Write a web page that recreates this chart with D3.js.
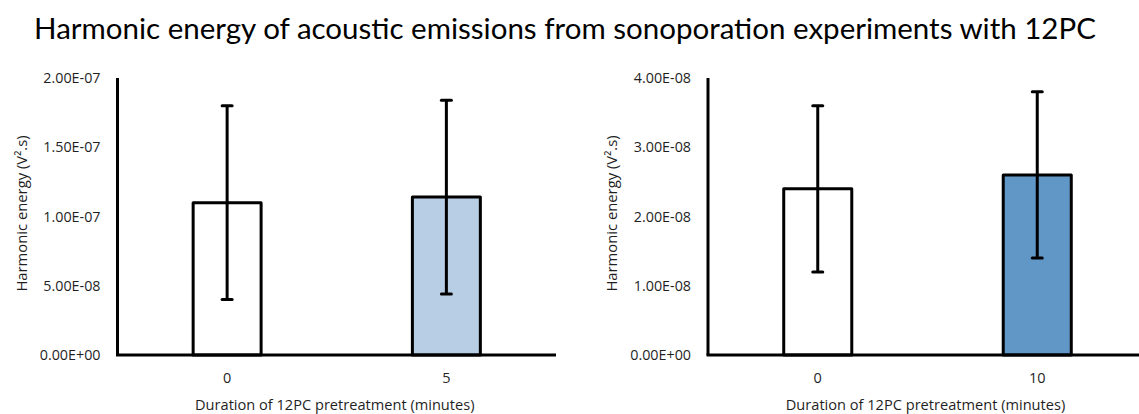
<!DOCTYPE html>
<html>
<head>
<meta charset="utf-8">
<script src="https://cdn.jsdelivr.net/npm/d3@7"></script>
<style>
  html, body { margin: 0; padding: 0; background: #fff; }
  svg { display: block; }
</style>
</head>
<body>
<svg id="chart" width="1139" height="414"></svg>
<script>
// Harmonic energy (V².s) with ±SD error bars, 12PC pretreatment duration groups
const titleText = "Harmonic energy of acoustic emissions from sonoporation experiments with 12PC";
const xAxisTitle = "Duration of 12PC pretreatment (minutes)";
const yAxisTitle = "Harmonic energy (V².s)";

// Panel A: 0 vs 5 minutes
const catsA = ["0", "5"];
const meansA = [1.10e-7, 1.14e-7];
const errsA = [7.0e-8, 7.0e-8];
const ticksA = [0, 5e-8, 1e-7, 1.5e-7, 2e-7];
const maxA = 2e-7;
const fillsA = ["#ffffff", "#b8cee5"];

// Panel B: 0 vs 10 minutes
const catsB = ["0", "10"];
const meansB = [2.40e-8, 2.60e-8];
const errsB = [1.2e-8, 1.2e-8];
const ticksB = [0, 1e-8, 2e-8, 3e-8, 4e-8];
const maxB = 4e-8;
const fillsB = ["#ffffff", "#6197c7"];

const svg = d3.select("#chart");
const labelFont = "Open Sans, sans-serif";
const textColor = "#1f1f1f";

svg.append("text")
  .attr("x", 565).attr("y", 39)
  .attr("text-anchor", "middle")
  .attr("font-family", "Lato, sans-serif")
  .attr("font-size", 29.5)
  .attr("fill", "#000")
  .text(titleText);

// Excel-style exponent format: 1.50E-07
function sci(v) {
  if (v === 0) return "0.00E+00";
  const e = Math.floor(Math.log10(Math.abs(v)));
  const m = v / Math.pow(10, e);
  const sign = e < 0 ? "-" : "+";
  return m.toFixed(2) + "E" + sign + String(Math.abs(e)).padStart(2, "0");
}

function panel(opts) {
  const { left, right, top, bottom, cats, means, errs, ticks, max, fills, yTitleX } = opts;
  const g = svg.append("g");
  const x = d3.scaleBand().domain(cats).range([left, right]).paddingInner(0.69).paddingOuter(0.345);
  const y = d3.scaleLinear().domain([0, max]).range([bottom, top]);

  // y axis tick labels
  const yAxis = d3.axisLeft(y).tickValues(ticks).tickFormat(sci).tickSize(0).tickPadding(17);
  const ya = g.append("g").attr("transform", `translate(${left},0)`).call(yAxis);
  ya.select(".domain").remove();
  ya.selectAll("text")
    .attr("font-family", labelFont).attr("font-size", 14.3).attr("fill", textColor);

  // x axis tick labels
  const xAxis = d3.axisBottom(x).tickSize(0).tickPadding(0);
  const xa = g.append("g").attr("transform", `translate(0,${bottom})`).call(xAxis);
  xa.select(".domain").remove();
  xa.selectAll("text")
    .attr("dy", null).attr("y", 28)
    .attr("font-family", labelFont).attr("font-size", 14.5).attr("fill", textColor);

  // bars
  g.selectAll("rect.bar").data(cats).enter().append("rect")
    .attr("class", "bar")
    .attr("x", d => x(d))
    .attr("width", x.bandwidth())
    .attr("y", (d, i) => y(means[i]))
    .attr("height", (d, i) => bottom - y(means[i]))
    .attr("fill", (d, i) => fills[i])
    .attr("stroke", "#000")
    .attr("stroke-width", 3)
    .attr("stroke-linejoin", "round");

  // error bars
  const eb = g.selectAll("g.err").data(cats).enter().append("g").attr("class", "err");
  const cx = d => x(d) + x.bandwidth() / 2;
  eb.append("line")
    .attr("x1", cx).attr("x2", cx)
    .attr("y1", (d, i) => y(means[i] + errs[i]))
    .attr("y2", (d, i) => y(means[i] - errs[i]))
    .attr("stroke", "#000").attr("stroke-width", 3);
  [1, -1].forEach(s => {
    eb.append("line")
      .attr("x1", d => cx(d) - 5).attr("x2", d => cx(d) + 5)
      .attr("y1", (d, i) => y(means[i] + s * errs[i]))
      .attr("y2", (d, i) => y(means[i] + s * errs[i]))
      .attr("stroke", "#000").attr("stroke-width", 3).attr("stroke-linecap", "round");
  });

  // axis lines
  g.append("line")
    .attr("x1", left).attr("x2", left).attr("y1", top).attr("y2", bottom)
    .attr("stroke", "#000").attr("stroke-width", 3);
  g.append("line")
    .attr("x1", left - 1.5).attr("x2", right).attr("y1", bottom).attr("y2", bottom)
    .attr("stroke", "#000").attr("stroke-width", 3);

  // axis titles
  g.append("text")
    .attr("x", (left + right) / 2 - 2).attr("y", bottom + 55)
    .attr("text-anchor", "middle")
    .attr("font-family", labelFont).attr("font-size", 14.6).attr("fill", textColor)
    .text(xAxisTitle);
  g.append("text")
    .attr("transform", `translate(${yTitleX},${(top + bottom) / 2 - 3}) rotate(-90)`)
    .attr("text-anchor", "middle")
    .attr("font-family", labelFont).attr("font-size", 14.8).attr("fill", textColor)
    .text(yAxisTitle);
}

panel({ left: 117.5, right: 556, top: 78, bottom: 355, cats: catsA, means: meansA, errs: errsA,
        ticks: ticksA, max: maxA, fills: fillsA, yTitleX: 27 });
panel({ left: 708, right: 1147, top: 78, bottom: 355, cats: catsB, means: meansB, errs: errsB,
        ticks: ticksB, max: maxB, fills: fillsB, yTitleX: 617 });
</script>
</body>
</html>
